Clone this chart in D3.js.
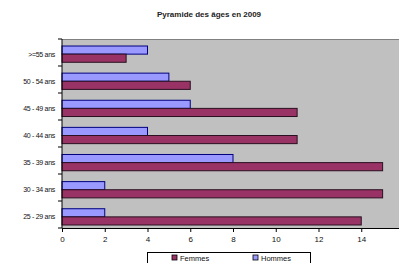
<!DOCTYPE html>
<html><head><meta charset="utf-8">
<script src="https://cdn.jsdelivr.net/npm/d3@7"></script>
<style>html,body{margin:0;padding:0;background:#fff;overflow:hidden}</style>
</head><body>
<svg id="c" width="399" height="263"></svg>
<script>
const categories = [">=55 ans", "50 - 54 ans", "45 - 49 ans", "40 - 44 ans", "35 - 39 ans", "30 - 34 ans", "25 - 29 ans"];
const hommes = [4, 5, 6, 4, 8, 2, 2];
const femmes = [3, 6, 11, 11, 15, 15, 14];
const xTicks = [0, 2, 4, 6, 8, 10, 12, 14];
const seriesNames = ["Femmes", "Hommes"];

(function () {
const svg = d3.select("#c");
const font = "Arial, 'Liberation Sans', sans-serif";
const pL = 62, pR = 404, pT = 39, pB = 228;

const x = d3.scaleLinear().domain([0, 16]).range([pL, pR]);
const y = d3.scaleBand().domain(categories).range([pT + 7, pB - 3]).paddingInner(0.4).paddingOuter(0);
const sub = d3.scaleBand().domain(["Hommes", "Femmes"]).range([0, y.bandwidth()]);

svg.append("rect").attr("x", pL).attr("y", pT).attr("width", pR - pL).attr("height", pB - pT)
  .attr("fill", "#c0c0c0");
svg.append("line").attr("x1", pL).attr("x2", 399).attr("y1", pT + 0.5).attr("y2", pT + 0.5)
  .attr("stroke", "#808080").attr("stroke-width", 1);

svg.append("text").attr("x", 209).attr("y", 17).attr("text-anchor", "middle")
  .attr("font-family", font).attr("font-size", 8).attr("font-weight", "bold").attr("fill", "#222")
  .text("Pyramide des âges en 2009");

const g = svg.append("g");
categories.forEach((c, i) => {
  g.append("rect").attr("x", x(0)).attr("y", y(c) + sub("Hommes"))
    .attr("width", x(hommes[i]) - x(0)).attr("height", sub.bandwidth())
    .attr("fill", "#9999ff").attr("stroke", "#000080").attr("stroke-width", 1);
  g.append("rect").attr("x", x(0)).attr("y", y(c) + sub("Femmes"))
    .attr("width", x(femmes[i]) - x(0)).attr("height", sub.bandwidth())
    .attr("fill", "#993366").attr("stroke", "#2a1020").attr("stroke-width", 1);
});

const xa = svg.append("g").attr("transform", `translate(0,${pB})`)
  .call(d3.axisBottom(x).tickValues(xTicks).tickSize(4).tickPadding(4));
xa.select(".domain").attr("stroke", "#000");
xa.selectAll("text").attr("font-family", font).attr("font-size", 8).attr("fill", "#111");

svg.append("line").attr("x1", pL).attr("x2", pL).attr("y1", pT).attr("y2", pB).attr("stroke", "#000");
d3.range(categories.length + 1).forEach(k => {
  const yy = pT + k * (pB - pT) / categories.length;
  svg.append("line").attr("x1", pL - 4).attr("x2", pL).attr("y1", yy).attr("y2", yy).attr("stroke", "#000");
});
categories.forEach(c => {
  svg.append("text").attr("x", 55).attr("y", y(c) + y.bandwidth() / 2 + 2.5)
    .attr("text-anchor", "end").attr("font-family", font).attr("font-size", 7).attr("fill", "#111")
    .attr("letter-spacing", -0.3).text(c);
});

const lg = svg.append("g");
lg.append("rect").attr("x", 147.5).attr("y", 252.5).attr("width", 163).attr("height", 20)
  .attr("fill", "#fff").attr("stroke", "#000");
const lx = [172, 253];
seriesNames.forEach((n, i) => {
  lg.append("rect").attr("x", lx[i]).attr("y", 255).attr("width", 5).attr("height", 5)
    .attr("fill", n === "Femmes" ? "#993366" : "#9999ff").attr("stroke", "#000").attr("stroke-width", 0.8);
  lg.append("text").attr("x", lx[i] + 8).attr("y", 261).attr("font-family", font).attr("font-size", 7.5)
    .attr("fill", "#111").text(n);
});
})();
</script>
</body></html>
